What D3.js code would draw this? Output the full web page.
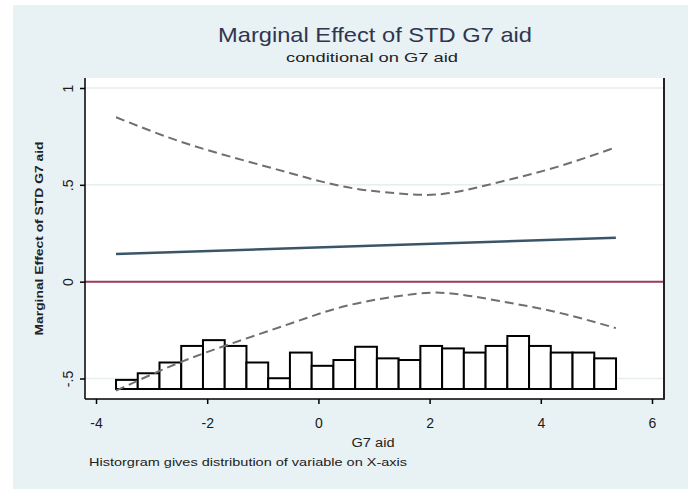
<!DOCTYPE html>
<html lang="en">
<head>
  <meta charset="UTF-8" />
  <title>Marginal Effect of STD G7 aid</title>
  <script src="https://d3js.org/d3.v7.min.js"></script>
  <style>
    body { margin: 0; background: #fff; }
    svg { display: block; font-family: "Liberation Sans", Arial, sans-serif; }
  </style>
</head>
<body>
  <svg width="688" height="489" id="chart"></svg>

  <script>
    // values
    const xTicks = [-4, -2, 0, 2, 4, 6];
    const yTicks = [-0.5, 0, 0.5, 1];
    const yTickLabels = ["-.5", "0", ".5", "1"];

    const ciX = [-3.64, -2.57, -1.54, -0.5, 0.53, 1.56, 2.32, 3.28, 4.31, 5.35];
    const ciUpper = [0.849, 0.732, 0.642, 0.560, 0.487, 0.453, 0.456, 0.516, 0.594, 0.694];
    const ciLower = [-0.563, -0.426, -0.317, -0.216, -0.123, -0.070, -0.059, -0.101, -0.159, -0.240];

    const meX = [-3.64, 5.35];
    const meY = [0.143, 0.227];

    // histogram of G7 aid, percent per bin
    const binStart = -3.64;
    const binWidth = 0.391;
    const histPct = [1.1, 1.9, 3.2, 5.2, 5.9, 5.2, 3.2, 1.3, 4.4, 2.8, 3.5, 5.1,
                     3.7, 3.5, 5.2, 4.9, 4.4, 5.2, 6.4, 5.2, 4.4, 4.4, 3.7];

    const svg = d3.select("#chart");

    const plot = { left: 85, right: 664, top: 78, bottom: 399 };

    const x = d3.scaleLinear().domain([-4, 6]).range([96, 652]);
    const y = d3.scaleLinear().domain([-0.5, 1]).range([378.5, 88]);
    const y2 = d3.scaleLinear().domain([0, 6.4]).range([389, 336]);

    // outer background
    svg.append("rect")
      .attr("x", 13).attr("y", 5)
      .attr("width", 675).attr("height", 484)
      .attr("fill", "#e8f1f3");

    svg.append("rect")
      .attr("x", plot.left).attr("y", plot.top)
      .attr("width", plot.right - plot.left).attr("height", plot.bottom - plot.top)
      .attr("fill", "#fff");

    // grid
    svg.append("g")
      .selectAll("line")
      .data(yTicks)
      .enter()
      .append("line")
      .attr("x1", plot.left).attr("x2", plot.right)
      .attr("y1", d => y(d)).attr("y2", d => y(d))
      .attr("stroke", "#e6eef0")
      .attr("stroke-width", 1.5);

    // histogram
    svg.append("g")
      .selectAll("rect")
      .data(histPct)
      .enter()
      .append("rect")
      .attr("x", (d, i) => x(binStart + i * binWidth))
      .attr("width", x(binStart + binWidth) - x(binStart))
      .attr("y", d => y2(d))
      .attr("height", d => y2(0) - y2(d))
      .attr("fill", "#fff")
      .attr("stroke", "#000")
      .attr("stroke-width", 2);

    // zero line
    svg.append("line")
      .attr("x1", plot.left).attr("x2", plot.right)
      .attr("y1", y(0)).attr("y2", y(0))
      .attr("stroke", "#9e3a5c")
      .attr("stroke-width", 2);

    const line = d3.line()
      .x(d => x(d[0]))
      .y(d => y(d[1]))
      .curve(d3.curveNatural);

    [ciUpper, ciLower].forEach(vals => {
      svg.append("path")
        .attr("d", line(ciX.map((v, i) => [v, vals[i]])))
        .attr("fill", "none")
        .attr("stroke", "#6f6f6f")
        .attr("stroke-width", 2)
        .attr("stroke-dasharray", "9,5");
    });

    svg.append("path")
      .attr("d", line(meX.map((v, i) => [v, meY[i]])))
      .attr("fill", "none")
      .attr("stroke", "#3b5568")
      .attr("stroke-width", 2.5);

    // axes
    const xAxis = d3.axisBottom(x).tickValues(xTicks).tickSize(5).tickFormat(d => String(d));
    const gx = svg.append("g")
      .attr("transform", `translate(0,${plot.bottom})`)
      .call(xAxis);
    gx.select(".domain").attr("d", `M${plot.left},0H${plot.right}`).attr("stroke-width", 1.5);
    gx.selectAll(".tick line").attr("stroke-width", 1.5);
    gx.selectAll(".tick text")
      .attr("dy", 0).attr("y", 29)
      .attr("font-size", 14)
      .attr("font-family", "Liberation Sans, Arial, sans-serif")
      .attr("fill", "#1a1a1a");

    const yAxis = d3.axisLeft(y).tickValues(yTicks).tickSize(5)
      .tickFormat((d, i) => yTickLabels[i]);
    const gy = svg.append("g")
      .attr("transform", `translate(${plot.left},0)`)
      .call(yAxis);
    gy.select(".domain").attr("d", `M0,${plot.top}V${plot.bottom}`).attr("stroke-width", 1.5);
    gy.selectAll(".tick line").attr("stroke-width", 1.5);
    gy.selectAll(".tick text")
      .attr("x", null).attr("dy", null)
      .attr("transform", "translate(-12,0) rotate(-90)")
      .attr("text-anchor", "middle")
      .attr("font-size", 14)
      .attr("font-family", "Liberation Sans, Arial, sans-serif")
      .attr("fill", "#1a1a1a");

    // right axis of the histogram
    svg.append("line")
      .attr("x1", plot.right).attr("x2", plot.right)
      .attr("y1", plot.top).attr("y2", plot.bottom + 0.75)
      .attr("stroke", "#222")
      .attr("stroke-width", 2);

    // titles
    svg.append("text")
      .attr("x", 375).attr("y", 42)
      .attr("text-anchor", "middle")
      .attr("font-size", 21)
      .attr("textLength", 314).attr("lengthAdjust", "spacingAndGlyphs")
      .attr("fill", "#2f3550")
      .text("Marginal Effect of STD G7 aid");

    svg.append("text")
      .attr("x", 372).attr("y", 62)
      .attr("text-anchor", "middle")
      .attr("font-size", 13)
      .attr("textLength", 172).attr("lengthAdjust", "spacingAndGlyphs")
      .attr("fill", "#222")
      .text("conditional on G7 aid");

    svg.append("text")
      .attr("transform", `translate(43,${(plot.top + plot.bottom) / 2}) rotate(-90)`)
      .attr("text-anchor", "middle")
      .attr("font-size", 10.5)
      .attr("font-weight", "bold")
      .attr("textLength", 194).attr("lengthAdjust", "spacingAndGlyphs")
      .attr("fill", "#222")
      .text("Marginal Effect of STD G7 aid");

    svg.append("text")
      .attr("x", 373).attr("y", 447)
      .attr("text-anchor", "middle")
      .attr("font-size", 12)
      .attr("textLength", 43).attr("lengthAdjust", "spacingAndGlyphs")
      .attr("fill", "#222")
      .text("G7 aid");

    svg.append("text")
      .attr("x", 89).attr("y", 466)
      .attr("font-size", 11)
      .attr("textLength", 318).attr("lengthAdjust", "spacingAndGlyphs")
      .attr("fill", "#222")
      .text("Historgram gives distribution of variable on X-axis");
  </script>
</body>
</html>
